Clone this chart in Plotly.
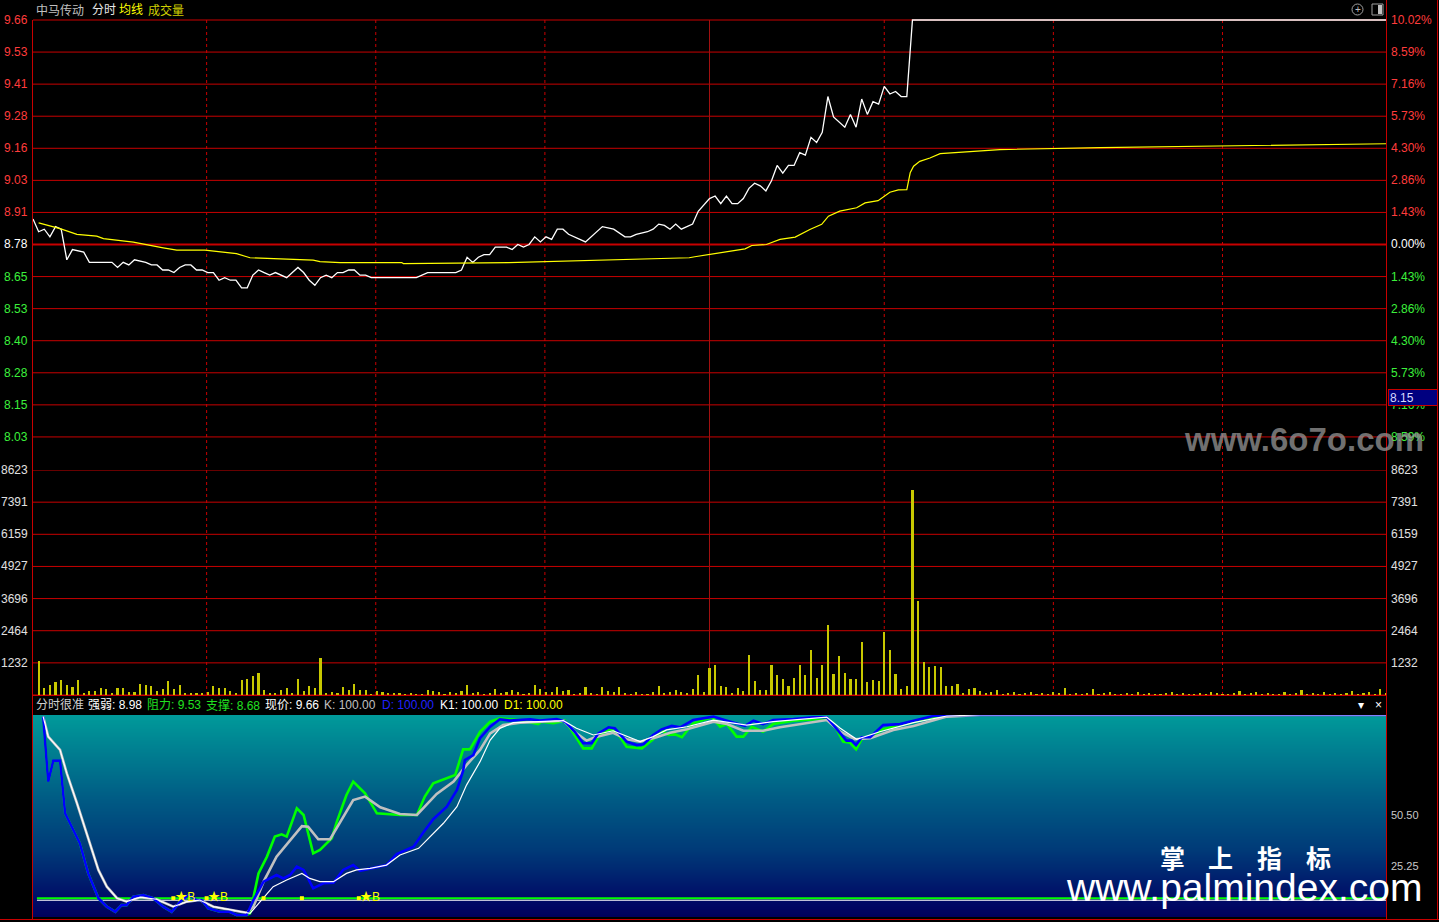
import plotly.graph_objects as go

W, H = 1439, 922
PREV_CLOSE = 8.78
LIMIT_STEP = 0.88 / 7

# ---------------- data ----------------
price_min = [0,1,2,3,4,5,6,7,9,10,14,15,16,17,18,20,21,22,23,24,25,26,27,28,29,30,31,32,33,34,35,36,37,38,39,40,41,42,43,44,
             45,46,47,48,49,50,51,52,53,54,55,56,57,58,59,60,68,70,75,76,77,78,79,80,81,82,84,85,86,87,88,89,90,91,92,93,94,95,98,101,
             103,105,106,107,109,110,111,112,113,114,115,117,118,120,121,122,123,124,125,126,127,128,129,130,131,132,133,134,135,136,
             137,138,139,140,141,142,144,145,146,147,148,149,150,151,152,153,154,155,156,240]
price_val = [8.88,8.83,8.84,8.81,8.85,8.84,8.72,8.76,8.75,8.71,8.71,8.69,8.71,8.70,8.72,8.71,8.70,8.70,8.68,8.68,
             8.67,8.69,8.70,8.70,8.68,8.68,8.67,8.67,8.64,8.65,8.64,8.64,8.61,8.61,8.66,8.68,8.67,8.66,8.67,8.66,
             8.65,8.67,8.69,8.67,8.64,8.62,8.65,8.66,8.65,8.67,8.67,8.68,8.68,8.66,8.66,8.65,8.65,8.67,8.67,8.68,
             8.73,8.71,8.73,8.74,8.74,8.77,8.77,8.76,8.78,8.77,8.78,8.81,8.79,8.81,8.80,8.84,8.84,8.82,8.79,8.85,
             8.84,8.81,8.81,8.82,8.83,8.84,8.86,8.855,8.84,8.86,8.84,8.86,8.91,8.96,8.97,8.94,8.97,8.94,8.94,8.96,
             9.00,9.02,9.01,8.99,9.03,9.09,9.06,9.09,9.09,9.14,9.13,9.20,9.18,9.22,9.36,9.28,9.24,9.29,9.24,9.35,
             9.29,9.34,9.33,9.40,9.37,9.38,9.36,9.36,9.66,9.66]

avg_min = [1,3.6,4.8,7.8,11.3,12.5,15.4,17.8,23.1,25.5,30.5,33.2,36.1,38.5,43.2,49.7,50.9,54.5,65.4,65.7,
           84.4,91.3,97.3,102.4,110.5,116.4,117.4,119.8,126.3,127.5,130.1,132.5,135.2,137.8,139.9,141.1,143.1,146.1,147.6,149.9,
           152.0,153.5,155.0,155.6,156.2,157.3,159.1,160.9,171.5,189.3,207,240]
avg_val = [8.865,8.85,8.842,8.82,8.813,8.803,8.796,8.789,8.767,8.758,8.758,8.75,8.744,8.728,8.724,8.719,8.713,8.709,8.709,8.705,
           8.709,8.713,8.716,8.72,8.724,8.728,8.732,8.741,8.763,8.776,8.78,8.80,8.809,8.839,8.859,8.891,8.911,8.924,8.943,8.952,
           8.985,8.994,8.995,9.061,9.087,9.106,9.119,9.136,9.152,9.16,9.165,9.175]

volume = [1303,257,383,498,575,383,306,575,51,153,153,268,230,51,268,268,115,115,421,383,
          345,153,230,536,230,383,77,77,77,77,115,345,268,268,153,77,575,613,728,843,
          192,77,77,192,268,77,613,153,345,268,1418,77,115,77,306,192,421,192,192,38,
          153,115,77,77,77,38,77,38,38,192,153,115,38,115,77,153,383,77,115,38,
          77,230,77,115,192,115,38,77,383,230,115,115,306,153,192,38,77,306,77,38,
          306,153,115,306,77,38,115,38,38,115,345,77,115,192,115,77,
          230,766,115,1035,1150,345,307,77,268,153,1533,536,192,192,1150,766,613,345,651,1150,
          766,1724,651,1150,2682,805,1494,843,613,613,2031,498,575,536,2414,1724,805,230,345,7856,
          3602,1265,1073,1111,1073,345,345,421,77,230,268,
          153,77,115,192,38,77,115,38,77,115,38,77,38,115,77,268,38,77,38,77,
          230,38,77,115,38,38,77,38,115,38,77,38,38,77,115,38,77,38,38,77,
          38,115,77,38,38,77,153,38,77,115,38,77,38,38,115,38,77,192,38,77,
          38,115,38,77,38,77,153,38,77,115,38,230,77]
vol_min = list(range(1, len(volume) + 1))

# indicator (分时很准) lines
blue_x = [1.8,2.2,2.7,3.6,4.8,5.7,6.9,8.3,9.8,11.6,13.1,14.6,15.7,16.6,17.8,19.6,21.3,23.1,24.6,26.1,
          27.6,29.0,29.9,31.1,33.2,34.9,36.1,37.9,39.1,40.9,43.2,44.4,45.6,46.8,48.0,49.7,51.5,53.3,55.0,56.8,
          58.0,59.8,62.7,64.5,67.5,69.2,71.0,73.4,75.2,76.3,76.6,78.1,79.3,81.1,82.8,84.6,88.2,89.9,92.9,94.4,
          96.1,97.6,99.1,100.3,102.1,103.2,105.3,107.1,108.3,110.0,111.5,113.3,114.8,117.1,120.7,123.1,124.8,126.3,127.8,129.5,
          131.3,134.9,138.4,140.8,142.0,143.5,144.3,145.2,146.0,147.0,148.5,150.8,153.8,156.2,159.7,162.1,240]
blue_y = [99.2,82.7,67.0,77.4,77.4,51.3,44.7,36.5,21.6,9.3,5.1,2.6,5.9,5.9,10.0,10.9,9.3,5.1,2.6,7.6,
          10.9,8.4,8.4,4.3,2.6,2.6,1.0,1.0,8.4,17.5,20.8,19.1,20.8,24.9,23.3,14.2,16.7,17.0,23.3,25.7,
          22.9,24.1,25.7,31.2,34.8,41.7,48.4,54.6,62.9,72.4,77.7,80.2,88.5,94.2,97.9,97.2,97.9,97.2,98.0,96.7,
          91.7,86.0,86.0,90.9,93.9,93.4,86.8,85.1,85.5,90.1,92.9,94.6,93.9,97.5,99.2,97.2,95.9,94.6,97.2,95.5,
          97.5,98.0,98.9,98.9,95.0,90.1,87.3,87.3,85.1,89.0,89.0,95.0,95.5,97.2,99.5,100,100]

green_x = [1.8,2.2,2.7,3.6,4.8,5.7,6.9,8.3,9.8,11.6,13.1,14.6,15.7,16.6,17.8,19.6,21.3,23.1,24.6,26.1,
           27.6,29.0,29.9,31.1,33.2,34.9,36.1,37.9,
           38.5,40.0,41.5,42.9,44.1,45.0,46.8,48.0,49.7,50.9,53.0,53.9,55.6,56.8,58.9,61.0,65.1,68.1,69.5,71.0,
           74.9,76.3,77.5,79.3,81.1,82.8,86.4,89.6,90.2,92.3,94.4,95.8,97.6,99.1,100.3,102.1,103.5,105.3,108.0,110.0,
           111.5,112.7,113.9,115.1,117.1,120.4,121.9,123.1,124.8,126.0,127.5,129.5,131.3,134.9,140.8,142.0,143.7,144.9,146.0,147.0,
           149.1,150.8,156.2,159.7,162.1,240]
green_y = [99.2,82.7,67.0,77.4,77.4,51.3,44.7,36.5,21.6,9.3,5.1,2.6,5.9,5.9,10.0,10.9,9.3,5.1,2.6,7.6,
           10.9,8.4,8.4,4.3,2.6,2.6,1.0,1.0,
           1.8,21.6,29.9,39.8,40.9,39.8,53.8,50.5,31.5,33.2,39.0,47.2,60.4,67.0,61.2,51.3,50.5,50.5,59.6,66.2,
           70.3,83.0,83.0,91.7,96.7,98.3,97.5,95.5,96.7,95.9,97.2,90.9,83.5,83.5,89.3,92.9,91.7,84.3,83.5,88.0,
           92.2,90.1,90.4,89.0,95.9,98.9,94.2,95.5,89.3,89.3,94.2,91.7,95.5,97.2,98.3,95.9,86.8,86.3,83.0,88.0,
           90.1,92.9,96.7,98.9,100,100]

gray_x = [1.8,2.7,4.8,6.0,7.8,9.5,11.6,13.1,14.9,16.6,19.0,21.9,24.9,27.3,29.6,32.0,34.9,37.9,
          39.1,40.9,43.2,45.6,47.7,48.8,50.6,52.7,55.0,56.8,58.9,61.6,65.1,68.1,71.6,74.6,76.9,79.3,81.1,83.4,
          86.4,89.4,94.1,96.4,98.2,99.7,102.9,105.3,107.7,110.6,113.0,116.0,120.7,123.1,126.0,129.5,132.5,140.8,143.2,145.8,
          148.5,152.6,156.2,162.1,168.0,240]
gray_y = [99.2,89.3,82.7,71.1,56.3,41.4,23.3,15.0,9.3,7.6,9.8,8.8,5.1,7.6,8.4,5.1,3.5,2.1,
          5.1,17.5,29.9,38.1,45.0,44.7,38.5,38.5,49.7,57.9,59.6,54.3,51.0,50.5,60.9,67.0,75.2,82.7,90.9,95.0,
          96.2,96.7,97.2,90.9,87.3,89.0,91.2,88.0,86.8,89.0,91.2,92.9,96.7,95.5,92.2,92.2,93.9,97.5,91.7,88.0,
          88.5,92.6,94.6,99.2,100,100]

white_x = [1.8,2.7,4.8,6.0,7.8,9.5,11.6,13.1,14.9,16.6,19.0,21.9,24.9,27.3,29.6,32.0,34.9,37.9,
           38.5,40.3,42.6,45.0,47.7,49.1,50.9,53.3,55.6,57.4,59.8,62.7,65.1,68.4,70.4,72.8,75.2,76.9,79.3,81.1,
           82.8,85.2,94.1,96.4,99.4,102.9,107.7,110.0,112.4,116.0,120.7,124.2,126.6,131.3,140.8,143.2,146.1,150.2,156.2,162.1,
           168.0,240]
white_y = [99.2,89.3,82.7,71.1,56.3,41.4,23.3,15.0,9.3,7.6,9.8,8.8,5.1,7.6,8.4,5.1,3.5,2.1,
           1.8,7.6,15.0,18.3,21.6,19.1,17.5,17.5,21.6,23.3,24.1,25.7,30.7,34.0,39.8,46.4,54.6,65.3,76.9,87.6,
           93.4,96.2,97.2,93.4,90.1,92.2,86.8,89.3,92.6,94.2,97.5,96.2,95.0,96.7,98.9,93.4,88.0,91.7,96.2,99.5,
           100,100]

ref_green_level = 9.3
ref_white_level = 8.3
ref_span = [0.7, 240]
signal_dot_min = [24.9, 30.8, 40.9, 47.7, 57.8]
signal_b_min = [27.0, 32.8, 59.8]

price_labels = ["9.66","9.53","9.41","9.28","9.16","9.03","8.91","8.78","8.65","8.53","8.40","8.28","8.15","8.03"]
pct_labels = ["10.02%","8.59%","7.16%","5.73%","4.30%","2.86%","1.43%","0.00%","1.43%","2.86%","4.30%","5.73%","7.16%","8.59%"]
vol_labels = [1232, 2464, 3696, 4927, 6159, 7391, 8623]
ind_labels = [50.50, 25.25]
time_grid_min = [30.8, 60.8, 90.8, 151.0, 181.0, 211.0]
mid_min = 120.0

# ---------------- styling helpers ----------------
RED = "#c80000"
LRED = "#ff3c3c"
LGREEN = "#3cf03c"
FONT = "Liberation Sans, Arial, Noto Sans CJK SC"
X0, X1 = 33, 1386


def py(px):
    return 1 - px / H


def pxx(px):
    return px / W


def dom(top, bot):
    return [py(bot), py(top)]


# price axis: 9.66 at 20px, 7.90 at 469px
p_per_px = 1.76 / 449
price_rng = [PREV_CLOSE - 7 * LIMIT_STEP, PREV_CLOSE + 7 * LIMIT_STEP + 6 * p_per_px]

fig = go.Figure()

# indicator background gradient
grad_y = list(range(0, 101, 5))
fig.add_trace(go.Heatmap(
    x=[0, 240], y=grad_y, z=[[v, v] for v in grad_y], xaxis="x", yaxis="y3",
    colorscale=[[0, "#00005c"], [0.08, "#000a66"], [0.33, "#003a78"], [0.58, "#005a84"], [1, "#009a9a"]],
    zmin=0, zmax=100, showscale=False, zsmooth="best", hoverinfo="skip"))

# price & average
fig.add_trace(go.Scatter(x=price_min, y=price_val, mode="lines", line=dict(color="#ffffff", width=1.3),
                         xaxis="x", yaxis="y"))
fig.add_trace(go.Scatter(x=avg_min, y=avg_val, mode="lines", line=dict(color="#ffff00", width=1.2),
                         xaxis="x", yaxis="y"))
# volume
fig.add_trace(go.Bar(x=vol_min, y=volume, width=0.38, marker=dict(color="#c8c800", line=dict(width=0)),
                     xaxis="x", yaxis="y2"))

# indicator reference lines
fig.add_trace(go.Scatter(x=ref_span, y=[ref_green_level] * 2, mode="lines", line=dict(color="#00ff00", width=2),
                         xaxis="x", yaxis="y3"))
fig.add_trace(go.Scatter(x=ref_span, y=[ref_white_level] * 2, mode="lines", line=dict(color="#ffffff", width=1.2),
                         xaxis="x", yaxis="y3"))
# indicator curves
fig.add_trace(go.Scatter(x=green_x, y=green_y, mode="lines", line=dict(color="#00ff00", width=2.6),
                         xaxis="x", yaxis="y3"))
fig.add_trace(go.Scatter(x=gray_x, y=gray_y, mode="lines", line=dict(color="#c0c0c0", width=2.6),
                         xaxis="x", yaxis="y3"))
fig.add_trace(go.Scatter(x=blue_x, y=blue_y, mode="lines", line=dict(color="#0000ff", width=2.6),
                         xaxis="x", yaxis="y3"))
fig.add_trace(go.Scatter(x=white_x, y=white_y, mode="lines", line=dict(color="#ffffff", width=1.2),
                         xaxis="x", yaxis="y3"))
# signals
fig.add_trace(go.Scatter(x=signal_dot_min, y=[ref_green_level] * len(signal_dot_min), mode="markers",
                         marker=dict(symbol="square", size=4, color="#ffff00"), xaxis="x", yaxis="y3"))
fig.add_trace(go.Scatter(x=signal_b_min, y=[ref_green_level] * len(signal_b_min), mode="text",
                         text=["★B"] * len(signal_b_min), textfont=dict(color="#ffff00", size=12, family=FONT),
                         xaxis="x", yaxis="y3"))

shapes = []
# price grid
for i in range(len(price_labels)):
    v = PREV_CLOSE + (7 - i) * LIMIT_STEP
    shapes.append(dict(type="line", xref="paper", yref="y", x0=pxx(X0), x1=pxx(X1), y0=v, y1=v,
                       line=dict(color=RED, width=2 if i == 7 else 1), layer="below"))
# volume grid
for v in vol_labels + [0]:
    shapes.append(dict(type="line", xref="paper", yref="y2", x0=pxx(X0), x1=pxx(X1), y0=v, y1=v,
                       line=dict(color=RED, width=1), layer="below"))
# time grid
for m in time_grid_min:
    shapes.append(dict(type="line", xref="x", yref="paper", x0=m, x1=m, y0=py(695), y1=py(20),
                       line=dict(color=RED, width=1, dash="dot"), layer="below"))
shapes.append(dict(type="line", xref="x", yref="paper", x0=mid_min, x1=mid_min, y0=py(695), y1=py(20),
                   line=dict(color="#a01010", width=1), layer="below"))
# frame
shapes += [
    dict(type="line", xref="paper", yref="paper", x0=pxx(32.5), x1=pxx(32.5), y0=py(920), y1=py(20), line=dict(color=RED, width=1)),
    dict(type="line", xref="paper", yref="paper", x0=pxx(1386.5), x1=pxx(1386.5), y0=py(920), y1=py(0), line=dict(color=RED, width=1)),
    dict(type="line", xref="paper", yref="paper", x0=pxx(1437.5), x1=pxx(1437.5), y0=py(920), y1=py(0), line=dict(color=RED, width=1)),
    dict(type="line", xref="paper", yref="paper", x0=0, x1=1, y0=py(919.5), y1=py(919.5), line=dict(color=RED, width=1)),
    dict(type="line", xref="paper", yref="paper", x0=pxx(X0), x1=pxx(X1), y0=py(695.5), y1=py(695.5), line=dict(color=RED, width=1)),
    # top-right icons
    dict(type="circle", xref="paper", yref="paper", x0=pxx(1352), x1=pxx(1363), y0=py(15), y1=py(4),
         line=dict(color="#a0a0a0", width=1)),
    dict(type="rect", xref="paper", yref="paper", x0=pxx(1372), x1=pxx(1383), y0=py(15), y1=py(4),
         line=dict(color="#a0a0a0", width=1)),
    dict(type="rect", xref="paper", yref="paper", x0=pxx(1378), x1=pxx(1382), y0=py(14), y1=py(5),
         line=dict(width=0), fillcolor="#c0c0c0"),
]

ann = []


def label(text, xpx, ypx, color, size=12, anchor="left", **kw):
    ann.append(dict(text=text, x=pxx(xpx), y=py(ypx), xref="paper", yref="paper", showarrow=False,
                    xanchor=anchor, yanchor="middle", font=dict(color=color, size=size, family=FONT), **kw))


# title
label("中马传动", 34, 10, "#c0c0c0")
label("分时", 90, 10, "#e8e8e8")
label("均线", 117, 10, "#ffff00")
label("成交量", 146, 10, "#d0d000")
label("+", 1357.5, 9, "#c0c0c0", size=10, anchor="center")

# price labels
for i, (pl, pc) in enumerate(zip(price_labels, pct_labels)):
    ypx = 20 + i * 449 / 14
    c = LRED if i < 7 else ("#ffffff" if i == 7 else LGREEN)
    label(pl, 30, ypx, c, anchor="right")
    label(pc, 1389, ypx, c)
# cursor price box
label("8.15", 1388, 397.5, "#d8d8ff", bgcolor="#000080", bordercolor=RED, borderwidth=1,
      width=46, height=13, align="left")

# volume labels
for v in vol_labels:
    ypx = 695 - v * 225 / 8624
    label(str(v), 30, ypx, "#e0e0e0", anchor="right")
    label(str(v), 1389, ypx, "#e0e0e0")

# indicator labels
for v in ind_labels:
    ypx = 917 - v * 2.02
    label(f"{v:.2f}", 1389, ypx, "#c8c8c8", size=11)

# indicator legend row
legend_items = [("分时很准", 34, "#d0d0d0"), ("强弱: 8.98", 86, "#ffffff"), ("阻力: 9.53", 145, "#20e020"),
                ("支撑: 8.68", 204, "#20e020"), ("现价: 9.66", 263, "#ffffff"), ("K: 100.00", 322, "#c0c0c0"),
                ("D: 100.00", 380, "#2020ff"), ("K1: 100.00", 438, "#ffffff"), ("D1: 100.00", 502, "#ffff00")]
for t, xp, c in legend_items:
    label(t, xp, 705, c)
label("▾", 1361, 705, "#ffffff", size=12, anchor="center")
label("×", 1378, 705, "#ffffff", size=12, anchor="center")

# watermarks
label("<b>www.6o7o.com</b>", 1182, 440, "rgba(150,150,150,0.75)", size=33)
for ch, xc in zip(["掌", "上", "指", "标"], [1172, 1220, 1269, 1318]):
    ann.append(dict(text=f"<b>{ch}</b>", x=pxx(xc), y=py(857), xref="paper", yref="paper", showarrow=False,
                    xanchor="center", yanchor="middle",
                    font=dict(color="#ffffff", size=25, family="Noto Sans CJK SC")))
label("www.palmindex.com", 1064, 887, "#ffffff", size=39)

fig.update_layout(
    width=W, height=H, margin=dict(l=0, r=0, t=0, b=0),
    paper_bgcolor="#000000", plot_bgcolor="#000000", showlegend=False, bargap=0,
    xaxis=dict(domain=[pxx(X0), pxx(X1)], range=[0, 240], visible=False, anchor="y3", fixedrange=True),
    yaxis=dict(domain=dom(14, 469), range=price_rng, visible=False, anchor="x"),
    yaxis2=dict(domain=dom(470, 695), range=[0, 8624], visible=False, anchor="x"),
    yaxis3=dict(domain=dom(715, 917), range=[0, 100], visible=False, anchor="x"),
    shapes=shapes, annotations=ann,
)

fig.write_html("out.html", config={"displayModeBar": False},
               post_script="document.body.style.margin='0';document.body.style.overflow='hidden';")
